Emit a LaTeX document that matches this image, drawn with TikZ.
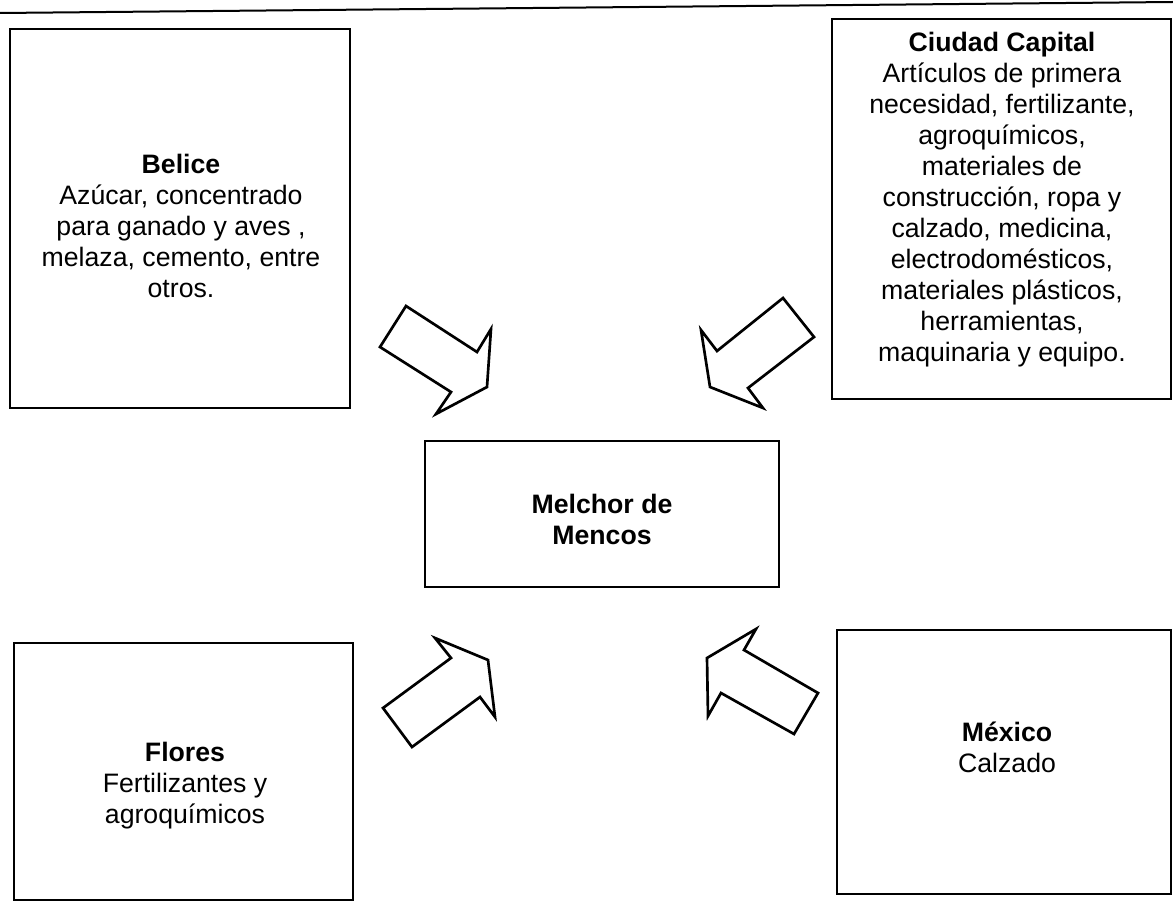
\documentclass[tikz,border=0pt]{standalone}
\usepackage{fontspec}
\setmainfont{Liberation Sans}
\tikzset{every picture/.style={line width=0.75pt}}
\tikzset{
  boxline/.style={draw=black, line width=1.5pt},
  blockarrow/.style={draw=black, fill=white, line width=2pt, line join=miter},
  txt/.style={align=center, inner sep=0pt, font=\fontsize{20}{23.25}\selectfont}
}

\begin{document}
\begin{tikzpicture}[x=0.75pt,y=0.75pt,yscale=-1,xscale=1]
\useasboundingbox (0,0) rectangle (1173,902);

%Straight Lines [id:da1] 
\draw [line width=1.5pt]    (0,13) -- (1173,2) ;

%Shape: Rectangle [id:dp1] 
\draw [boxline]  (10,29) rectangle (350,408) ;
%Shape: Rectangle [id:dp2] 
\draw [boxline]  (832,19) rectangle (1171,399) ;
%Shape: Rectangle [id:dp3] 
\draw [boxline]  (425,441) rectangle (779,587) ;
%Shape: Rectangle [id:dp4] 
\draw [boxline]  (14,643) rectangle (353,900) ;
%Shape: Rectangle [id:dp5] 
\draw [boxline]  (837,630) rectangle (1171,894) ;

%Shape: Right Arrow [id:dp6] 
\draw [blockarrow]  (406,306) -- (477,352) -- (491,329) -- (487,387) -- (436,414) -- (451,392) -- (380,347) -- cycle ;
%Shape: Right Arrow [id:dp7] 
\draw [blockarrow]  (783,298) -- (814,337) -- (748,388) -- (763,408) -- (710,387) -- (701,330) -- (717,351) -- cycle ;
%Shape: Right Arrow [id:dp8] 
\draw [blockarrow]  (435,638) -- (488,660) -- (495,717) -- (480,697) -- (412,747) -- (383,708) -- (451,658) -- cycle ;
%Shape: Right Arrow [id:dp9] 
\draw [blockarrow]  (756,629) -- (744,650) -- (818,693) -- (794,734) -- (721,693) -- (708,716) -- (707,658) -- cycle ;

% Text Node
\node [txt] (belice) at (181,226) {\textbf{Belice}\\Azúcar, concentrado\\para ganado y aves ,\\melaza, cemento, entre\\otros.};
% Text Node
\node [txt] (capital) at (1002,200) {\textbf{Ciudad Capital}\\Artículos de primera\\necesidad, fertilizante,\\agroquímicos,\\materiales de\\construcción, ropa y\\calzado, medicina,\\electrodomésticos,\\materiales plásticos,\\herramientas,\\maquinaria y equipo.};
% Text Node
\node [txt] (melchor) at (602,519) {\textbf{Melchor de}\\\textbf{Mencos}};
% Text Node
\node [txt] (flores) at (185,786) {\textbf{Flores}\\Fertilizantes y\\agroquímicos};
% Text Node
\node [txt] (mexico) at (1007,747) {\textbf{México}\\Calzado};

\end{tikzpicture}
\end{document}
